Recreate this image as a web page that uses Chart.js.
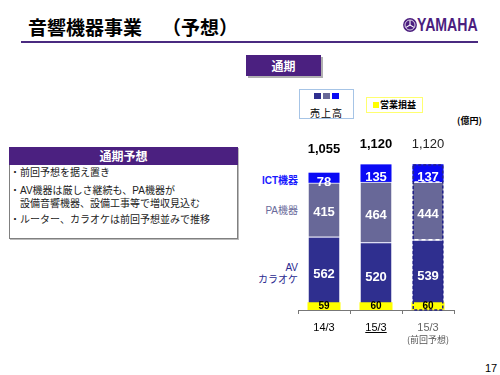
<!DOCTYPE html>
<html><head><meta charset="utf-8">
<script src="https://cdn.jsdelivr.net/npm/chart.js@4"></script>
<style>
html,body{margin:0;padding:0;background:#fff;}
#page{position:relative;width:500px;height:375px;overflow:hidden;background:#fff;font-family:"Liberation Sans","Noto Sans CJK JP",sans-serif;}
.abs{position:absolute;white-space:nowrap;}
.jp{font-family:"Noto Sans CJK JP",sans-serif;}
.mix{font-family:"Liberation Sans","Noto Sans CJK JP",sans-serif;}
</style></head>
<body><div id="page">
<!-- title -->
<div class="abs jp" style="left:28px;top:17px;font-size:19px;line-height:19px;font-weight:bold;color:#000;">音響機器事業</div>
<div class="abs jp" style="left:162px;top:17px;font-size:19px;line-height:19px;font-weight:bold;color:#000;">（予想）</div>
<div class="abs" style="left:21px;top:41px;width:457px;height:2px;background:#4a2a80;"></div>
<!-- logo -->
<svg class="abs" style="left:402.5px;top:18.3px" width="14" height="14" viewBox="0 0 14 14">
<circle cx="7" cy="7" r="6.9" fill="#4b1e7f"/>
<circle cx="7" cy="7" r="5" fill="none" stroke="#fff" stroke-width="0.8"/>
<g stroke="#fff" stroke-width="1.1"><line x1="7" y1="7" x2="7" y2="2.3"/><line x1="7" y1="7" x2="11" y2="9.4"/><line x1="7" y1="7" x2="3" y2="9.4"/></g>
</svg>
<div class="abs" style="left:417px;top:16px;font-size:18px;line-height:18px;font-weight:bold;color:#4b1e7f;transform:scaleX(0.785);transform-origin:0 0;font-family:'Liberation Sans',sans-serif;">YAMAHA</div>
<!-- tab -->
<div class="abs jp" style="left:246px;top:55px;width:75px;height:21px;background:#4b2080;box-shadow:2px 2px 0 #b0b0b0;color:#fff;font-weight:bold;font-size:12px;line-height:21px;text-align:center;">通期</div>
<!-- legend 1 -->
<div class="abs" style="left:299px;top:89px;width:55px;height:30px;box-sizing:border-box;border:1px solid #a6c4e6;background:#fff;"></div>
<div class="abs" style="left:314px;top:93px;width:7px;height:6px;background:#2f2f8f;"></div>
<div class="abs" style="left:323px;top:93px;width:7px;height:6px;background:#686898;"></div>
<div class="abs" style="left:332px;top:93px;width:7px;height:6px;background:#0a0af5;"></div>
<div class="abs jp" style="left:299px;top:108px;width:55px;text-align:center;font-size:10px;line-height:10px;letter-spacing:1px;color:#000;">売上高</div>
<!-- legend 2 -->
<div class="abs" style="left:366px;top:97px;width:57px;height:16px;box-sizing:border-box;border:1px solid #ffff70;background:#fff;"></div>
<div class="abs" style="left:373px;top:102px;width:6px;height:6px;background:#ffff00;"></div>
<div class="abs jp" style="left:380px;top:100px;font-size:9px;line-height:9px;font-weight:bold;color:#000;">営業損益</div>
<div class="abs jp" style="left:457px;top:115.5px;font-size:9px;line-height:9px;font-weight:bold;color:#000;">(億円)</div>
<!-- left box -->
<div class="abs" style="left:9px;top:147px;width:229px;height:92px;box-sizing:border-box;border:1px solid #808080;box-shadow:1px 1px 0 #bbb;background:#fff;"></div>
<div class="abs jp" style="left:9px;top:147px;width:229px;height:18px;background:#4b2080;color:#fff;font-weight:bold;font-size:12px;line-height:18px;text-align:center;">通期予想</div>
<div class="abs mix" style="left:10px;top:168px;font-size:10px;line-height:10px;color:#222;">・前回予想を据え置き</div>
<div class="abs mix" style="left:10px;top:185.5px;font-size:10px;line-height:10px;color:#222;">・AV機器は厳しさ継続も、PA機器が</div>
<div class="abs mix" style="left:10px;top:198.5px;font-size:10px;line-height:10px;color:#222;">　設備音響機器、設備工事等で増収見込む</div>
<div class="abs mix" style="left:10px;top:214.5px;font-size:10px;line-height:10px;color:#222;">・ルーター、カラオケは前回予想並みで推移</div>
<!-- axis labels -->
<div class="abs mix" style="right:202px;top:175.5px;font-size:10px;line-height:10px;font-weight:bold;color:#1a1aff;">ICT機器</div>
<div class="abs mix" style="right:202px;top:206px;font-size:10px;line-height:10px;color:#6a6a9a;">PA機器</div>
<div class="abs mix" style="right:202px;top:262.5px;font-size:10px;line-height:10px;color:#2a2a90;">AV</div>
<div class="abs mix" style="right:202px;top:275px;font-size:10px;line-height:10px;color:#2a2a90;">カラオケ</div>
<div class="abs" style="left:485px;top:363px;font-size:11px;line-height:11px;color:#000;">17</div>
<!-- chart -->
<div class="abs" style="left:288px;top:130px;width:177px;height:225px;">
<canvas id="c" width="177" height="225"></canvas>
</div>
</div>
<script>
const categories = ['14/3', '15/3', '15/3'];
const categoryNotes = ['', '', '(前回予想)'];
const avKaraoke = [562, 520, 539];
const paDevices = [415, 464, 444];
const ictDevices = [78, 135, 137];
const totals = [1055, 1120, 1120];
const operatingIncome = [59, 60, 60];

const COL_AV = '#2f2f8f', COL_PA = '#686898', COL_ICT = '#0a0af5', COL_OP = '#ffff00';
const segOffsets = [1, 3, 4.5];
const totalOffsets = [23, 19.5, 19.5];
const STACK_PCT = 31 / 52, OP_PCT = 33 / 52;

const labelPlugin = {
  id: 'labels',
  afterDatasetsDraw(chart) {
    const ctx = chart.ctx;
    const metas = [0, 1, 2].map(i => chart.getDatasetMeta(i));
    // forecast bar dashed outline
    const fi = 2;
    const ict = metas[2].data[fi], pa = metas[1].data[fi], av = metas[0].data[fi];
    ctx.save();
    const left = ict.x - ict.width / 2, right = ict.x + ict.width / 2;
    ctx.setLineDash([3, 2]);
    ctx.lineWidth = 1.5;
    ctx.strokeStyle = '#22228a';
    ctx.strokeRect(left + 0.75, ict.y + 0.75, ict.width - 1.5, av.base - ict.y - 0.75);
    ctx.setLineDash([4, 3]);
    ctx.strokeStyle = '#ffffff';
    ctx.lineWidth = 1.5;
    [pa.y, av.y].forEach(yy => {
      ctx.beginPath(); ctx.moveTo(left + 2, yy); ctx.lineTo(right - 1, yy); ctx.stroke();
    });
    ctx.restore();

    // segment labels
    ctx.save();
    ctx.textAlign = 'center';
    ctx.textBaseline = 'middle';
    ctx.fillStyle = '#fff';
    ctx.font = 'bold 13px "Liberation Sans", Arial, sans-serif';
    const sets = [avKaraoke, paDevices, ictDevices];
    metas.forEach((m, di) => {
      m.data.forEach((el, i) => {
        const yc = (el.y + el.base) / 2 + segOffsets[di];
        ctx.fillText(String(sets[di][i]), el.x, yc);
      });
    });
    // operating income labels
    const om = chart.getDatasetMeta(3);
    ctx.fillStyle = '#000';
    ctx.font = 'bold 10px "Liberation Sans", Arial, sans-serif';
    om.data.forEach((el, i) => {
      ctx.fillText(String(operatingIncome[i]), el.x, (el.y + el.base) / 2 + 0.5);
    });
    // totals
    metas[2].data.forEach((el, i) => {
      ctx.fillStyle = i === 2 ? '#222' : '#000';
      ctx.font = (i === 2 ? '' : 'bold ') + '13px "Liberation Sans", Arial, sans-serif';
      ctx.fillText(totals[i].toLocaleString('en-US'), el.x, el.y - totalOffsets[i]);
    });
    ctx.restore();
  },
  afterDraw(chart) {
    const ctx = chart.ctx, xs = chart.scales.x;
    ctx.save();
    // underline current-year label
    ctx.font = '11px "Liberation Sans", Arial, sans-serif';
    const x1 = xs.getPixelForTick(1);
    const w = ctx.measureText(categories[1]).width;
    ctx.strokeStyle = '#000'; ctx.lineWidth = 1;
    ctx.beginPath(); ctx.moveTo(x1 - w / 2, 202.5); ctx.lineTo(x1 + w / 2, 202.5); ctx.stroke();
    // notes
    ctx.font = '9px "Noto Sans CJK JP", sans-serif';
    ctx.fillStyle = '#555';
    ctx.textAlign = 'center'; ctx.textBaseline = 'middle';
    categoryNotes.forEach((n, i) => { if (n) ctx.fillText(n, xs.getPixelForTick(i), 210); });
    ctx.restore();
  }
};

const segCommon = { stack: 's', order: 1, grouped: false, categoryPercentage: 1, barPercentage: STACK_PCT };
new Chart(document.getElementById('c'), {
  type: 'bar',
  data: {
    labels: categories,
    datasets: [
      Object.assign({ label: 'AV・カラオケ', data: avKaraoke, backgroundColor: COL_AV,
        borderWidth: { top: 1, left: 0, right: 0, bottom: 0 }, borderColor: 'rgba(200,200,235,0.9)', borderSkipped: false }, segCommon),
      Object.assign({ label: 'PA機器', data: paDevices, backgroundColor: COL_PA,
        borderWidth: { top: 1, left: 0, right: 0, bottom: 0 }, borderColor: 'rgba(200,200,235,0.9)', borderSkipped: false }, segCommon),
      Object.assign({ label: 'ICT機器', data: ictDevices, backgroundColor: COL_ICT, borderWidth: 0 }, segCommon),
      { label: '営業損益', data: operatingIncome, grouped: false, categoryPercentage: 1, barPercentage: OP_PCT,
        backgroundColor: COL_OP, stack: 'op', order: 0, borderWidth: 0 }
    ]
  },
  options: {
    responsive: false,
    animation: false,
    devicePixelRatio: 1,
    layout: { padding: { left: 10, right: 11, top: 0, bottom: 0 } },
    plugins: { legend: { display: false }, tooltip: { enabled: false } },
    scales: {
      x: {
        type: 'category', offset: true,
        grid: { display: true, drawOnChartArea: false, drawTicks: true, tickLength: 4, color: '#777', offset: true },
        border: { display: true, color: '#777', width: 1 },
        ticks: { font: { size: 11, family: '"Liberation Sans", Arial, sans-serif' },
                 color: c => c.index === 2 ? '#666' : '#000', padding: 7, maxRotation: 0, autoSkip: false },
        afterFit: s => { s.height = 45; }
      },
      y: { stacked: true, display: false, min: 0, max: 1383 }
    }
  },
  plugins: [labelPlugin]
});
</script>
</body></html>
